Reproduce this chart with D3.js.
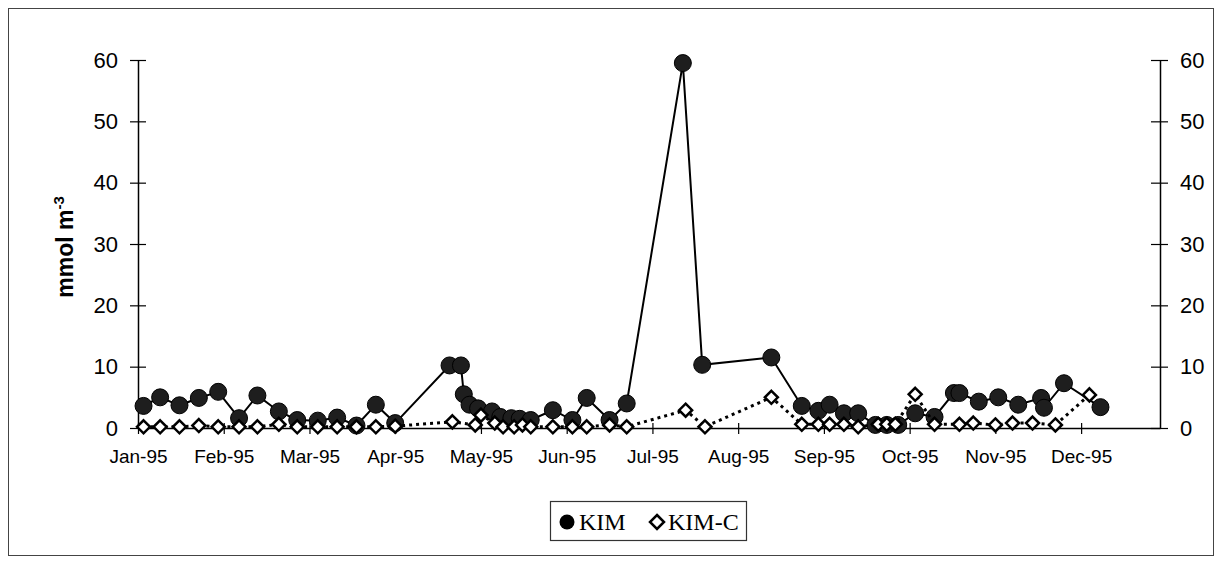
<!DOCTYPE html>
<html><head><meta charset="utf-8">
<script src="https://cdn.jsdelivr.net/npm/d3@7"></script>
<style>body{margin:0;background:#fff}svg{display:block}</style>
</head><body>
<svg id="c" width="1220" height="562"></svg>
<script>
const monthLabels = ["Jan-95","Feb-95","Mar-95","Apr-95","May-95","Jun-95","Jul-95","Aug-95","Sep-95","Oct-95","Nov-95","Dec-95"];
const yTicks = [0,10,20,30,40,50,60];

const kimDates = ["1995-01-03","1995-01-09","1995-01-16","1995-01-23","1995-01-30","1995-02-06","1995-02-12","1995-02-19","1995-02-25","1995-03-04","1995-03-11","1995-03-18","1995-03-25","1995-04-01",
"1995-04-20","1995-04-24","1995-04-25","1995-04-27","1995-04-30","1995-05-05","1995-05-08","1995-05-12","1995-05-15","1995-05-19","1995-05-27",
"1995-06-03","1995-06-08","1995-06-16","1995-06-22","1995-07-12","1995-07-19","1995-08-13","1995-08-24","1995-08-30",
"1995-09-03","1995-09-08","1995-09-13","1995-09-19","1995-09-23","1995-09-27","1995-10-03","1995-10-10","1995-10-17","1995-10-19","1995-10-26",
"1995-11-02","1995-11-09","1995-11-17","1995-11-18","1995-11-25","1995-12-08"];
const kimValues = [3.6,5.0,3.7,4.9,5.9,1.6,5.3,2.7,1.3,1.2,1.7,0.4,3.8,0.8,
10.2,10.2,5.5,3.8,3.2,2.7,1.8,1.6,1.5,1.3,2.9,
1.3,4.9,1.3,4.0,59.5,10.3,11.5,3.6,2.8,
3.8,2.4,2.4,0.5,0.5,0.5,2.4,1.8,5.7,5.7,4.3,
5.0,3.8,4.9,3.3,7.3,3.4];

const kimcDates = ["1995-01-03","1995-01-09","1995-01-16","1995-01-23","1995-01-30","1995-02-06","1995-02-12","1995-02-19","1995-02-25","1995-03-04","1995-03-11","1995-03-18","1995-03-25","1995-04-01",
"1995-04-21","1995-04-29","1995-05-01","1995-05-06","1995-05-09","1995-05-13","1995-05-16","1995-05-19","1995-05-27",
"1995-06-03","1995-06-08","1995-06-16","1995-06-22","1995-07-13","1995-07-20","1995-08-13","1995-08-24","1995-08-30",
"1995-09-03","1995-09-08","1995-09-13","1995-09-20","1995-09-23","1995-09-26","1995-10-03","1995-10-10","1995-10-19","1995-10-24",
"1995-11-01","1995-11-07","1995-11-14","1995-11-22","1995-12-04"];
const kimcValues = [0.2,0.2,0.2,0.4,0.2,0.2,0.2,0.6,0.2,0.2,0.2,0.2,0.2,0.3,
1.0,0.5,2.1,0.8,0.2,0.2,0.5,0.2,0.2,
0.2,0.2,0.5,0.2,2.9,0.2,5.0,0.6,0.6,
0.6,0.6,0.2,0.6,0.6,0.6,5.5,0.6,0.6,0.8,
0.5,0.8,0.8,0.5,5.4];

const parse = d3.timeParse("%Y-%m-%d");
function monthPos(s){
  const d = parse(s);
  const m0 = d3.timeMonth.floor(d), m1 = d3.timeMonth.offset(m0,1);
  return d.getMonth() + (d - m0)/(m1 - m0);
}
const kim = kimDates.map((d,i)=>({m:monthPos(d), v:kimValues[i]}));
const kimc = kimcDates.map((d,i)=>({m:monthPos(d), v:kimcValues[i]}));

const svg = d3.select("#c");
const x = d3.scaleLinear().domain([0, 11.92]).range([138, 1160]);
const y = d3.scaleLinear().domain([0, 60]).range([428, 60]);

// outer frame
svg.append("rect").attr("x",8.5).attr("y",8.5).attr("width",1205).attr("height",547)
  .attr("fill","none").attr("stroke","#444").attr("stroke-width",1);

// x axis
const xAxis = svg.append("g").attr("transform","translate(0,428)")
  .call(d3.axisBottom(x).tickValues(d3.range(12)).tickFormat(i=>monthLabels[i]).tickSize(0));
xAxis.select(".domain").attr("stroke","#000").attr("stroke-width",1.5);
xAxis.selectAll(".tick line").attr("y1",-5).attr("y2",6).attr("stroke","#000").attr("stroke-width",1.2);
xAxis.selectAll(".tick text").attr("y",22).attr("dy","0.71em").attr("font-family","Liberation Sans, Arial, sans-serif").attr("font-size",19).attr("fill","#000");

// left y axis
const yl = svg.append("g").attr("transform","translate(138,0)")
  .call(d3.axisLeft(y).tickValues(yTicks).tickSize(0));
yl.select(".domain").attr("stroke","#000").attr("stroke-width",1.5);
yl.selectAll(".tick line").attr("x1",-8).attr("x2",8).attr("stroke","#000").attr("stroke-width",1.2);
yl.selectAll(".tick text").attr("x",-20).attr("font-family","Liberation Sans, Arial, sans-serif").attr("font-size",22).attr("fill","#000");

// right y axis
const yr = svg.append("g").attr("transform","translate(1160,0)")
  .call(d3.axisRight(y).tickValues(yTicks).tickSize(0));
yr.select(".domain").attr("stroke","#000").attr("stroke-width",1.5);
yr.selectAll(".tick line").attr("x1",-9).attr("x2",8).attr("stroke","#000").attr("stroke-width",1.2);
yr.selectAll(".tick text").attr("x",20).attr("font-family","Liberation Sans, Arial, sans-serif").attr("font-size",22).attr("fill","#000");

// y title
const yt = svg.append("text").attr("transform","translate(73,247) rotate(-90)")
  .attr("text-anchor","middle").attr("font-family","Liberation Sans, Arial, sans-serif")
  .attr("font-weight","bold").attr("font-size",23).attr("fill","#000");
yt.append("tspan").text("mmol m");
yt.append("tspan").attr("dy",-9).attr("font-size",15).text("-3");

// KIM series
const line = d3.line().x(d=>x(d.m)).y(d=>y(d.v));
svg.append("path").datum(kim).attr("d",line).attr("fill","none").attr("stroke","#000").attr("stroke-width",2);
svg.append("g").selectAll("circle").data(kim).join("circle")
  .attr("cx",d=>x(d.m)).attr("cy",d=>y(d.v)).attr("r",8.5)
  .attr("fill","#1e1e1e").attr("stroke","#000").attr("stroke-width",1);

// KIM-C series
svg.append("path").datum(kimc).attr("d",line).attr("fill","none").attr("stroke","#000")
  .attr("stroke-width",3).attr("stroke-dasharray","3,4");
const dsz = 6.5;
svg.append("g").selectAll("path").data(kimc).join("path")
  .attr("d",d=>{const cx=x(d.m), cy=y(d.v); return `M${cx},${cy-dsz}L${cx+dsz},${cy}L${cx},${cy+dsz}L${cx-dsz},${cy}Z`;})
  .attr("fill","#fff").attr("stroke","#000").attr("stroke-width",2.5);

// legend
const lg = svg.append("g");
lg.append("rect").attr("x",550.5).attr("y",501.5).attr("width",196).attr("height",39)
  .attr("fill","#fff").attr("stroke","#333").attr("stroke-width",1.2);
lg.append("circle").attr("cx",567).attr("cy",522).attr("r",7.5).attr("fill","#000");
lg.append("text").attr("x",579).attr("y",530).attr("font-family","Liberation Serif, Times New Roman, serif").attr("font-size",24).attr("fill","#000").text("KIM");
lg.append("path").attr("d","M657,515L664,522L657,529L650,522Z").attr("fill","#fff").attr("stroke","#000").attr("stroke-width",2.5);
lg.append("text").attr("x",668).attr("y",530).attr("font-family","Liberation Serif, Times New Roman, serif").attr("font-size",24).attr("fill","#000").text("KIM-C");
</script>
</body></html>
